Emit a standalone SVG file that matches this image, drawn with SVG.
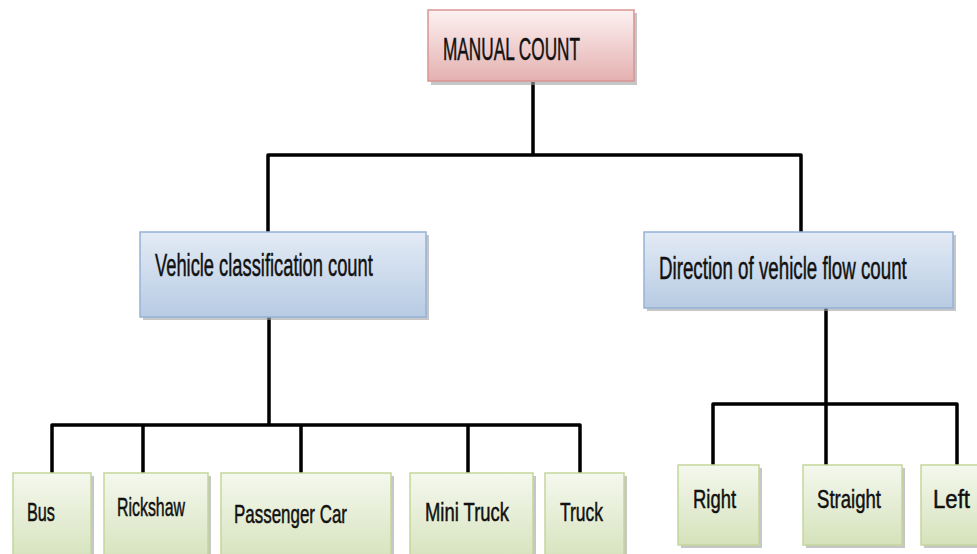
<svg xmlns="http://www.w3.org/2000/svg" width="977" height="554" viewBox="0 0 977 554">
<defs>
<linearGradient id="gPink" x1="0" y1="0" x2="0" y2="1"><stop offset="0" stop-color="#fdf1f1"/><stop offset="1" stop-color="#e4b0b0"/></linearGradient>
<linearGradient id="gBlue" x1="0" y1="0" x2="0" y2="1"><stop offset="0" stop-color="#e3ebf5"/><stop offset="1" stop-color="#b7cbe3"/></linearGradient>
<linearGradient id="gGreen" x1="0" y1="0" x2="0" y2="1"><stop offset="0" stop-color="#f5f8ee"/><stop offset="1" stop-color="#d5e2bb"/></linearGradient>
</defs>
<style>
.shadow{fill:#a0a0a0;opacity:0.6}
.pink{fill:url(#gPink);stroke:#d99594;stroke-width:1.5}
.blue{fill:url(#gBlue);stroke:#95b3d7;stroke-width:1.5}
.green{fill:url(#gGreen);stroke:#c3d69b;stroke-width:1.5}
.conn{fill:none;stroke:#000;stroke-width:3.5;stroke-linejoin:round}
text{font-family:"Liberation Sans",Arial,sans-serif;fill:#111;stroke:#111;stroke-width:0.5}
.big{font-size:31px}
.small{font-size:26px}
</style>
<g id="connectors">
<path class="conn" d="M533,82 V155 M268,232 V155 H801 V232"/>
<path class="conn" d="M269,317 V425 M52,473 V425 H580 V473 M143,425 V473 M301,425 V473 M468,425 V473"/>
<path class="conn" d="M826,308 V404 M713,465 V404 H957 V465 M826,404 V465"/>
</g>
<g id="manual-count">
<rect class="shadow" x="431" y="13" width="206" height="72"/>
<rect class="pink" x="428" y="10" width="206" height="71"/>
<text class="big" x="443" y="60" textLength="137" lengthAdjust="spacingAndGlyphs">MANUAL COUNT</text>
</g>
<g id="vehicle-classification">
<rect class="shadow" x="143" y="235" width="286" height="85"/>
<rect class="blue" x="140" y="232" width="286" height="85"/>
<text class="big" transform="translate(155,276) scale(0.6,1)" x="0" y="0" textLength="363" lengthAdjust="spacingAndGlyphs">Vehicle classification count</text>
</g>
<g id="direction-flow">
<rect class="shadow" x="647" y="235" width="309" height="76"/>
<rect class="blue" x="644" y="232" width="309" height="76"/>
<text class="big" transform="translate(659,279) scale(0.6,1)" x="0" y="0" textLength="413" lengthAdjust="spacingAndGlyphs">Direction of vehicle flow count</text>
</g>
<g id="bus">
<rect class="shadow" x="16" y="476" width="78" height="90"/>
<rect class="green" x="13" y="473" width="78" height="90"/>
<text class="small" x="27" y="521" textLength="28" lengthAdjust="spacingAndGlyphs">Bus</text>
</g>
<g id="rickshaw">
<rect class="shadow" x="107" y="476" width="104" height="90"/>
<rect class="green" x="104" y="473" width="104" height="90"/>
<text class="small" x="117" y="516" textLength="68" lengthAdjust="spacingAndGlyphs">Rickshaw</text>
</g>
<g id="passenger-car">
<rect class="shadow" x="224" y="476" width="170" height="90"/>
<rect class="green" x="221" y="473" width="170" height="90"/>
<text class="small" x="234" y="523" textLength="113" lengthAdjust="spacingAndGlyphs">Passenger Car</text>
</g>
<g id="mini-truck">
<rect class="shadow" x="413" y="476" width="123" height="90"/>
<rect class="green" x="410" y="473" width="123" height="90"/>
<text class="small" x="425" y="521" textLength="84" lengthAdjust="spacingAndGlyphs">Mini Truck</text>
</g>
<g id="truck">
<rect class="shadow" x="548" y="476" width="79" height="90"/>
<rect class="green" x="545" y="473" width="79" height="90"/>
<text class="small" x="560" y="521" textLength="43" lengthAdjust="spacingAndGlyphs">Truck</text>
</g>
<g id="right">
<rect class="shadow" x="681" y="468" width="81" height="80"/>
<rect class="green" x="678" y="465" width="81" height="80"/>
<text class="small" x="693" y="508" textLength="43" lengthAdjust="spacingAndGlyphs">Right</text>
</g>
<g id="straight">
<rect class="shadow" x="806" y="468" width="99" height="80"/>
<rect class="green" x="803" y="465" width="99" height="80"/>
<text class="small" x="817" y="508" textLength="64" lengthAdjust="spacingAndGlyphs">Straight</text>
</g>
<g id="left">
<rect class="shadow" x="924" y="468" width="80" height="80"/>
<rect class="green" x="921" y="465" width="80" height="80"/>
<text class="small" x="933" y="508" textLength="37" lengthAdjust="spacingAndGlyphs">Left</text>
</g>
</svg>
